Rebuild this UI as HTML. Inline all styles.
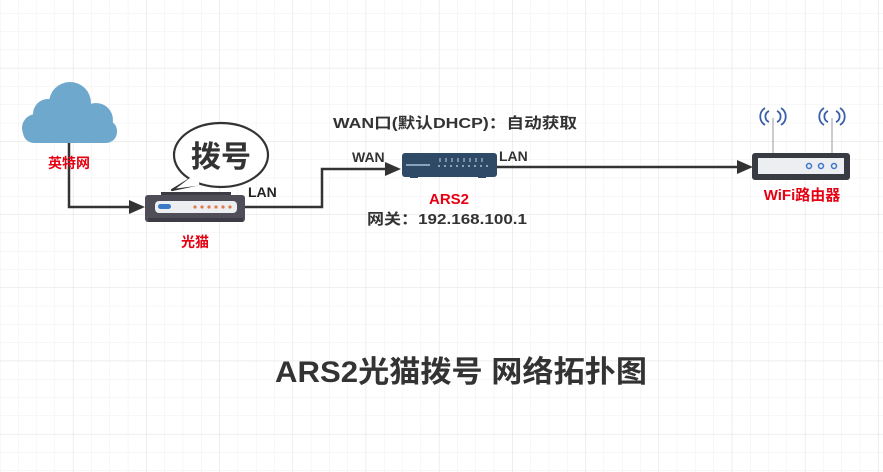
<!DOCTYPE html>
<html><head><meta charset="utf-8"><style>
html,body{margin:0;padding:0;background:#fff;}
svg{display:block;}
text{font-family:"Liberation Sans","Noto Sans CJK SC",sans-serif;}
</style></head><body>
<svg width="883" height="472" viewBox="0 0 883 472" xmlns="http://www.w3.org/2000/svg">
<defs>
<pattern id="g" x="-0.3" y="-5.3" width="18.3" height="18.3" patternUnits="userSpaceOnUse">
<path d="M0 0V18.3M0 0H18.3" stroke="#efefef" stroke-width="1" fill="none"/>
</pattern>
<pattern id="G" x="-0.3" y="-5.3" width="73.2" height="73.2" patternUnits="userSpaceOnUse">
<path d="M0 0V73.2M0 0H73.2" stroke="#e3e3e3" stroke-width="1" fill="none"/>
</pattern>
</defs>
<rect width="883" height="472" fill="#fff"/>
<rect width="883" height="472" fill="url(#g)"/>
<rect x="-0.3" y="-5.3" width="883" height="480" fill="url(#G)"/>

<!-- cloud -->
<g fill="#6ea8cd">
<circle cx="70" cy="103" r="21"/>
<circle cx="48" cy="114" r="15"/>
<circle cx="96" cy="120" r="17"/>
<circle cx="36" cy="128" r="14"/>
<rect x="23" y="120" width="94" height="23" rx="11"/>
</g>

<!-- connectors -->
<g stroke="#333" stroke-width="2.5" fill="none">
<path d="M69 143V207H132"/>
<path d="M245 207H322V169H388"/>
<path d="M497 167H740"/>
</g>
<g fill="#333">
<path d="M145 207l-16-7v14z"/>
<path d="M401 169l-16-7v14z"/>
<path d="M753 167l-16-7v14z"/>
</g>

<!-- speech bubble -->
<ellipse cx="221" cy="155" rx="47" ry="32" fill="#fff" stroke="#333" stroke-width="2.2"/>
<path d="M190 179 L172 190 L200 184" fill="#fff" stroke="#333" stroke-width="2.2" stroke-linejoin="round"/>
<path d="M190.5 177.5 L176 188.5 L199.5 185.5 L199 182 z" fill="#fff"/>
<text x="221" y="167" font-size="30" font-weight="bold" fill="#333" text-anchor="middle">拨号</text>

<!-- modem -->
<rect x="161" y="192" width="70" height="4" fill="#3d3b44"/>
<rect x="145" y="195" width="100" height="27" rx="3" fill="#4f4d57"/>
<rect x="148" y="218" width="95" height="4" fill="#3d3b44"/>
<rect x="155" y="201" width="82" height="12" rx="4" fill="#eceef2"/>
<rect x="158" y="204" width="13" height="5" rx="2.5" fill="#3b78c8"/>
<g fill="#e07b4a"><circle cx="195" cy="207" r="1.6"/><circle cx="202" cy="207" r="1.6"/><circle cx="209" cy="207" r="1.6"/><circle cx="216" cy="207" r="1.6"/><circle cx="223" cy="207" r="1.6"/><circle cx="230" cy="207" r="1.6"/></g>

<!-- ARS2 -->
<rect x="402" y="153" width="95" height="24" rx="3" fill="#2f4a66"/>
<rect x="410" y="175" width="8" height="3" fill="#2f4a66"/>
<rect x="478" y="175" width="8" height="3" fill="#2f4a66"/>
<line x1="406" y1="165" x2="430" y2="165" stroke="#a9c0d6" stroke-width="1.5"/>
<g stroke="#c5d3e0" stroke-width="1"><path d="M440 158v4M446 158v4M452 158v4M458 158v4M464 158v4M470 158v4M476 158v4M482 158v4"/></g>
<g stroke="#a9c0d6" stroke-width="1.5" stroke-dasharray="2 4"><line x1="438" y1="166" x2="490" y2="166"/></g>

<!-- router -->
<g stroke="#aaa" stroke-width="1.2"><line x1="773" y1="118" x2="773" y2="154"/><line x1="832" y1="118" x2="832" y2="154"/></g>
<g fill="none" stroke="#3a5fa8" stroke-width="1.8">
<path d="M769 111a6 6 0 0 0 0 11M777 111a6 6 0 0 1 0 11M765 108a10 10 0 0 0 0 17M781 108a10 10 0 0 1 0 17"/>
<path d="M828 111a6 6 0 0 0 0 11M836 111a6 6 0 0 1 0 11M824 108a10 10 0 0 0 0 17M840 108a10 10 0 0 1 0 17"/>
</g>
<rect x="752" y="153" width="98" height="27" rx="3" fill="#383b42"/>
<rect x="758" y="158" width="86" height="16" fill="#eceef2"/>
<g fill="none" stroke="#3b78c8" stroke-width="1.5"><circle cx="809" cy="166" r="2.5"/><circle cx="821" cy="166" r="2.5"/><circle cx="834" cy="166" r="2.5"/></g>

<!-- labels -->
<text x="69" y="168" font-size="14" font-weight="bold" fill="#e60012" text-anchor="middle">英特网</text>
<text x="195" y="247" font-size="14" font-weight="bold" fill="#e60012" text-anchor="middle">光猫</text>
<text x="248" y="197" font-size="14" font-weight="bold" fill="#222">LAN</text>
<text x="352" y="162" font-size="14" font-weight="bold" fill="#333">WAN</text>
<text x="499" y="161" font-size="14" font-weight="bold" fill="#333">LAN</text>
<text x="455" y="128" font-size="15" font-weight="bold" fill="#333" text-anchor="middle" textLength="244" lengthAdjust="spacingAndGlyphs">WAN口(默认DHCP)：自动获取</text>
<text x="449" y="204" font-size="15" font-weight="bold" fill="#e60012" text-anchor="middle">ARS2</text>
<text x="447" y="224" font-size="15" font-weight="bold" fill="#333" text-anchor="middle" textLength="160" lengthAdjust="spacingAndGlyphs">网关：192.168.100.1</text>
<text x="802" y="200" font-size="15" font-weight="bold" fill="#e60012" text-anchor="middle">WiFi路由器</text>
<text x="461" y="382" font-size="30" font-weight="bold" fill="#333" text-anchor="middle" textLength="372" lengthAdjust="spacingAndGlyphs">ARS2光猫拨号 网络拓扑图</text>
</svg>
</body></html>
